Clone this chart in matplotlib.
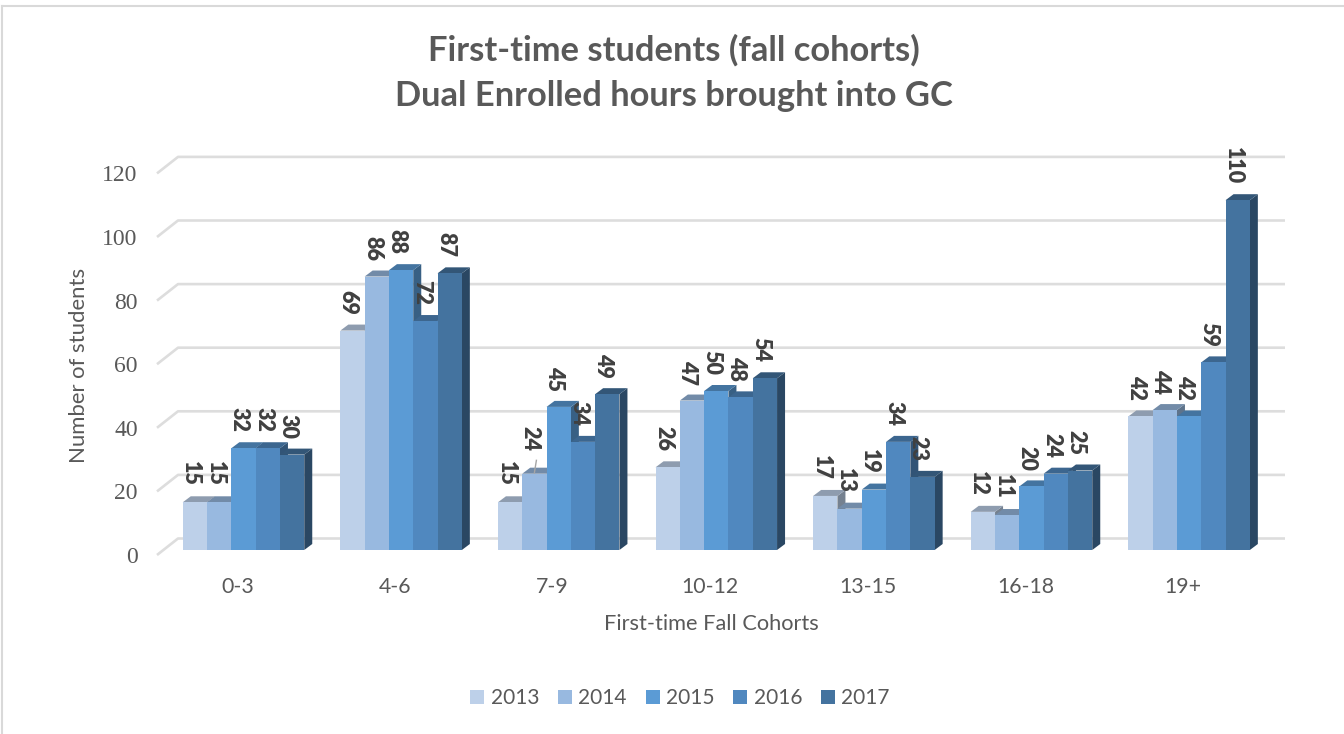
import matplotlib
matplotlib.use('Agg')
import matplotlib.pyplot as plt
from matplotlib.patches import Patch
from matplotlib.lines import Line2D
from matplotlib.colors import to_rgb

# values
cohorts = ['0-3', '4-6', '7-9', '10-12', '13-15', '16-18', '19+']
years = ['2013', '2014', '2015', '2016', '2017']
v2013 = [15, 69, 15, 26, 17, 12, 42]
v2014 = [15, 86, 24, 47, 13, 11, 44]
v2015 = [32, 88, 45, 50, 19, 20, 42]
v2016 = [32, 72, 34, 48, 34, 24, 59]
v2017 = [30, 87, 49, 54, 23, 25, 110]
series = [v2013, v2014, v2015, v2016, v2017]
colors = ['#BDD0E9', '#98B9E0', '#5B9BD5', '#5088BF', '#44739F']
y_ticks = [0, 20, 40, 60, 80, 100, 120]

W, H = 1344, 734
GREY = '#595959'
plt.rcParams['font.family'] = ['Lato', 'DejaVu Sans']

fig = plt.figure(figsize=(W / 100, H / 100), dpi=100)

# plot box in pixels, 0 sits at y=550 and one group is 157.6 px wide
left, right, bottom, top = 164.7, 1267.9, 550, 168.4
ax = fig.add_axes([left / W, 1 - bottom / H, (right - left) / W, (bottom - top) / H])
ax.set_xlim(0, 7)
ax.set_ylim(0, 120)
ax.axis('off')

px_x = 7 / (right - left)
px_y = 120 / (bottom - top)
bar_w = 24.3 * px_x
depth_x = 8 * px_x
depth_y = 6 * px_y


def shade(c, f):
    return tuple(v * f for v in to_rgb(c))


# floor/wall gridlines with the slanted bit at the left
for t in y_ticks:
    ax.plot([-7.7 * px_x, 13.3 * px_x, 1120.3 * px_x],
            [t - 5 * px_y, t + 11.5 * px_y, t + 11.5 * px_y],
            color='#DDDDDD', lw=1.9, clip_on=False, zorder=1, solid_capstyle='butt')
    ax.text(-27 * px_x, t - 7.5 * px_y, str(t), family='Liberation Serif', fontsize=17,
            color=GREY, ha='right', va='center', clip_on=False)

z = 2
for g in range(len(cohorts)):
    x0 = g + 0.5 - 2.5 * bar_w
    for s in range(len(years)):
        val = series[s][g]
        xl = x0 + s * bar_w
        xr = xl + bar_w
        # right side, top, then the front
        ax.fill([xr, xr + depth_x, xr + depth_x, xr],
                [0, depth_y, val + depth_y, val],
                color=shade(colors[s], 0.62), lw=0, zorder=z)
        ax.fill([xl, xl + depth_x, xr + depth_x, xr],
                [val, val + depth_y, val + depth_y, val],
                color=shade(colors[s], 0.75), lw=0, zorder=z + 1)
        ax.bar(xl, val, width=bar_w, align='edge', color=colors[s], lw=0, zorder=z + 2)
        z += 3

# data labels on top of everything
for g in range(len(cohorts)):
    x0 = g + 0.5 - 2.5 * bar_w
    for s in range(len(years)):
        val = series[s][g]
        xc = x0 + (s + 0.5) * bar_w
        gap = 11.5
        # the 24 label was pulled up in the original, with a small leader line
        if g == 2 and s == 1:
            gap = 16.5
            ax.plot([xc, xc + 2 * px_x], [val + 0.3, val + 4.2], color='#A6A6A6', lw=1, zorder=z)
        ax.annotate(str(val), (xc, val), xytext=(-3, gap), textcoords='offset points',
                    rotation=270, ha='center', va='bottom', fontsize=15.5,
                    fontweight='heavy', color='#404040', zorder=z + 1, annotation_clip=False)

# category labels, no ticks
for g, c in enumerate(cohorts):
    ax.text(g + 0.5 - 6 * px_x, -37 * px_y, c, fontsize=15.3, color=GREY, ha='center', va='center', clip_on=False)

fig.text(711 / W, 1 - 624 / H, 'First-time Fall Cohorts', fontsize=15.7, color=GREY,
         ha='center', va='center')
fig.text(79 / W, 1 - 365 / H, 'Number of students', fontsize=15.9, color=GREY,
         rotation=90, ha='center', va='center')
fig.text(674 / W, 1 - 73 / H, 'First-time students (fall cohorts)\nDual Enrolled hours brought into GC',
         fontsize=24.85, fontweight='bold', color=GREY, ha='center', va='center', linespacing=1.55)

handles = [Patch(facecolor=c, edgecolor='none', label=y) for c, y in zip(colors, years)]
fig.legend(handles=handles, loc='center', bbox_to_anchor=(680 / W, 1 - 698 / H), ncol=5, frameon=False,
           fontsize=15, labelcolor=GREY, handlelength=0.68, handleheight=0.68,
           handletextpad=0.3, columnspacing=0.9, borderpad=0, borderaxespad=0)

# chart frame
fig.add_artist(Line2D([2 / W, 2 / W], [0, 1 - 5.5 / H], color='#D9D9D9', lw=1.5))
fig.add_artist(Line2D([2 / W, 1], [1 - 5.5 / H, 1 - 5.5 / H], color='#D9D9D9', lw=1.5))

fig.savefig('out.png', dpi=100)
